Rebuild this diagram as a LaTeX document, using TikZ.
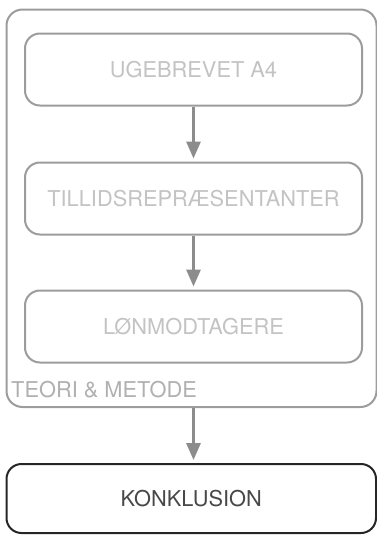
\documentclass[tikz,border=0pt]{standalone}
\usepackage{fontspec}
\setmainfont{TeX Gyre Heros}
\usetikzlibrary{arrows.meta}
\definecolor{framegray}{HTML}{9C9C9C}
\definecolor{textgray}{HTML}{C3C3C3}
\definecolor{labelgray}{HTML}{B0B0B0}
\definecolor{arrowgray}{HTML}{8C8C8C}
\definecolor{darktext}{HTML}{484848}
\tikzset{
  labelfont/.style={font=\fontsize{21.8}{26}\selectfont},
  framebox/.style={draw=framegray, line width=2pt, rounded corners=16pt, inner sep=0pt},
  stagebox/.style={draw=framegray, line width=2pt, rounded corners=15pt,
    minimum width=337pt, minimum height=72pt, inner sep=0pt,
    text=textgray, labelfont},
  resultbox/.style={draw=black!85, line width=2pt, rounded corners=15pt,
    minimum width=369.5pt, minimum height=69pt, inner sep=0pt,
    text=darktext, labelfont},
  flow/.style={draw=arrowgray, line width=3pt,
    -{Triangle[width=14pt,length=17pt]}, shorten >=3pt}
}
\begin{document}
\begin{tikzpicture}[x=1pt,y=-1pt]
\useasboundingbox (0,0) rectangle (377,536);
% outer frame around the three sources
\node[framebox, minimum width=370pt, minimum height=397.5pt] (teori) at (191.5,208.25) {};
\node[anchor=base west, inner sep=0pt, text=labelgray, labelfont]
  (teorilabel) at (11,397) {TEORI \& METODE};
% stages
\node[stagebox] (ugebrevet) at (193.5,69.5) {UGEBREVET A4};
\node[stagebox] (tillid) at (193.5,198.5) {TILLIDSREPRÆSENTANTER};
\node[stagebox] (loen) at (193.5,326.5) {LØNMODTAGERE};
\node[resultbox] (konklusion) at (191.25,498.5) {KONKLUSION};
% connectors
\draw[flow] (ugebrevet) -- (tillid);
\draw[flow] (tillid) -- (loen);
\draw[flow] (teori.south -| ugebrevet.south) -- (konklusion.north -| ugebrevet.south);
\end{tikzpicture}
\end{document}
